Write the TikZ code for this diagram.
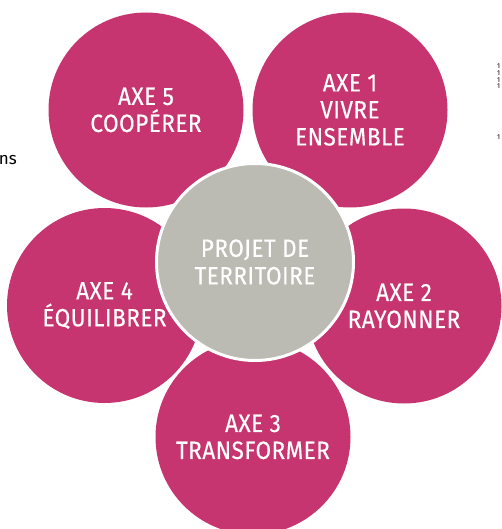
\documentclass[tikz,border=0pt]{standalone}
\usepackage{fontspec}
\setmainfont{Fira Sans}[FakeStretch=0.9, LetterSpace=2, FakeBold=0.3]
\newfontfamily\smallfont{Fira Sans}
\definecolor{axepink}{HTML}{C6356F}
\definecolor{projgray}{HTML}{BBBBB3}
\tikzset{
  axe/.style={circle, fill=axepink, minimum size=195pt, inner sep=0pt, text=white,
    align=center, font=\fontsize{25}{27}\selectfont},
  projet/.style={circle, fill=projgray, draw=white, line width=3pt, minimum size=197pt,
    inner sep=0pt, text=white, align=center, font=\fontsize{25}{27.5}\selectfont},
  frag/.style={inner sep=0pt, anchor=north west, align=left, font=\smallfont\fontsize{7}{6.7}\selectfont}
}
\begin{document}
\begin{tikzpicture}[x=1pt,y=-1pt]
\useasboundingbox (0,0) rectangle (501,529);
\node[axe] (a5) at (146,110) {AXE 5\\COOPÉRER};
\node[axe] (a1) at (350,110) {AXE 1\\VIVRE\\ENSEMBLE};
\node[axe] (a4) at (104.5,305.5) {AXE 4\\ÉQUILIBRER};
\node[axe] (a2) at (404,306) {AXE 2\\RAYONNER};
\node[axe] (a3) at (253,437) {AXE 3\\TRANSFORMER};
\node[projet] (pt) at (255,262) {PROJET DE\\TERRITOIRE};
\node[inner sep=0pt, anchor=base east, font=\smallfont\fontsize{17}{17}\selectfont] (ns) at (17,165) {ns};
\node[frag] (f1) at (497,64) {1\\1\\1\\1};
\node[frag] (f5) at (497,135) {1};
\end{tikzpicture}
\end{document}
